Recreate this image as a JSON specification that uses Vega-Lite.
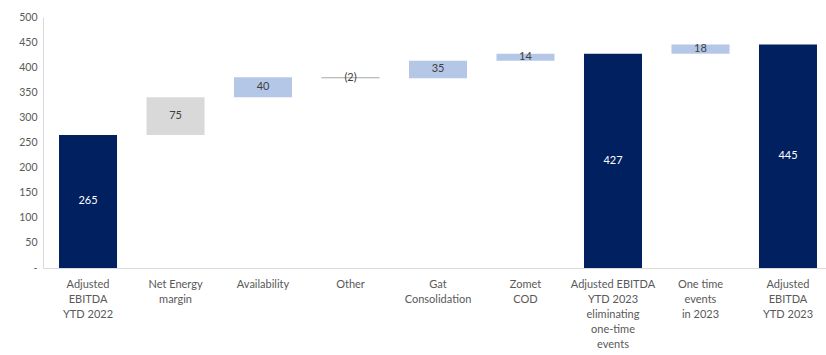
{
  "$schema": "https://vega.github.io/schema/vega-lite/v6.json",
  "autosize": {"type": "none"},
  "padding": {"left": 43, "top": 17, "right": 0, "bottom": 87},
  "width": 783,
  "height": 251,
  "background": "white",
  "config": {
    "view": {"stroke": null},
    "font": "Lato"
  },
  "data": {
    "values": [
      {"step": "Adjusted|EBITDA|YTD 2022", "start": 0, "end": 265, "amount": "265", "kind": "total"},
      {"step": "Net Energy|margin", "start": 265, "end": 340, "amount": "75", "kind": "main"},
      {"step": "Availability", "start": 340, "end": 380, "amount": "40", "kind": "up"},
      {"step": "Other", "start": 380, "end": 378, "amount": "(2)", "kind": "down"},
      {"step": "Gat|Consolidation", "start": 378, "end": 413, "amount": "35", "kind": "up"},
      {"step": "Zomet|COD", "start": 413, "end": 427, "amount": "14", "kind": "up"},
      {"step": "Adjusted EBITDA|YTD 2023|eliminating|one-time|events", "start": 0, "end": 427, "amount": "427", "kind": "total"},
      {"step": "One time|events|in 2023", "start": 427, "end": 445, "amount": "18", "kind": "up"},
      {"step": "Adjusted|EBITDA|YTD 2023", "start": 0, "end": 445, "amount": "445", "kind": "total"}
    ]
  },
  "transform": [
    {"calculate": "(datum.start + datum.end) / 2", "as": "mid"}
  ],
  "encoding": {
    "x": {
      "field": "step",
      "type": "nominal",
      "sort": null,
      "scale": {"paddingInner": 0.337, "paddingOuter": 0.143, "align": 0.64},
      "axis": {
        "title": null,
        "labelAngle": 0,
        "labelExpr": "split(datum.label, '|')",
        "labelFontSize": 11,
        "labelColor": "#595959",
        "labelLineHeight": 15,
        "labelBaseline": "top",
        "labelPadding": 10,
        "ticks": false,
        "domainColor": "#d9d9d9",
        "labelLimit": 200
      }
    },
    "y": {
      "field": "start",
      "type": "quantitative",
      "scale": {"domain": [0, 500], "nice": false},
      "axis": {
        "title": null,
        "values": [0, 50, 100, 150, 200, 250, 300, 350, 400, 450, 500],
        "format": "d",
        "labelExpr": "datum.value == 0 ? '-' : datum.label",
        "labelOverlap": false,
        "labelBound": false,
        "labelFlush": false,
        "grid": false,
        "ticks": false,
        "labelPadding": 6,
        "labelFontSize": 10.5,
        "labelColor": "#595959",
        "domainColor": "#d9d9d9"
      }
    }
  },
  "layer": [
    {
      "mark": {"type": "bar"},
      "encoding": {
        "y2": {"field": "end"},
        "color": {
          "field": "kind",
          "type": "nominal",
          "scale": {
            "domain": ["total", "main", "up", "down"],
            "range": ["#002060", "#d9d9d9", "#b4c7e7", "#a6a6a6"]
          },
          "legend": null
        }
      }
    },
    {
      "mark": {"type": "text", "fontSize": 11, "baseline": "middle"},
      "encoding": {
        "y": {"field": "mid", "type": "quantitative"},
        "text": {"field": "amount"},
        "color": {
          "condition": {"test": "datum.kind == 'total'", "value": "#ffffff"},
          "value": "#404040"
        }
      }
    }
  ]
}
